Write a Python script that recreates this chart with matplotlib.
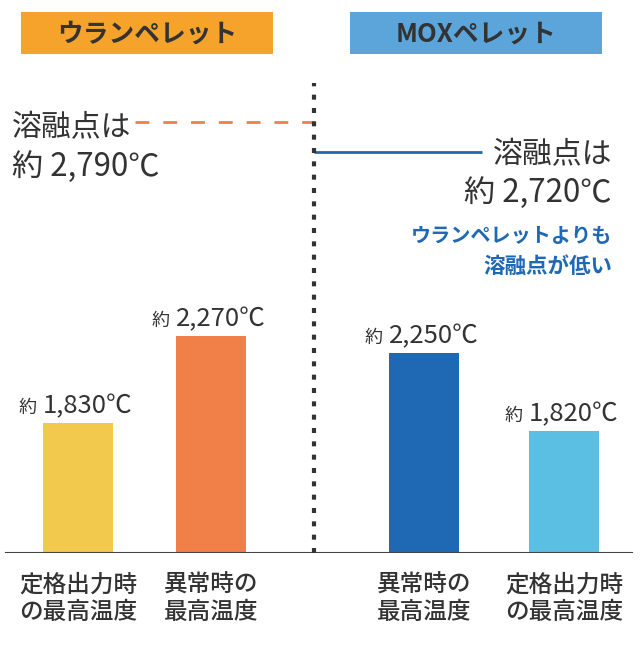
import numpy as np
import matplotlib
matplotlib.use("Agg")
import matplotlib.pyplot as plt
from matplotlib.patches import Rectangle

plt.rcParams['font.family'] = ['Noto Sans CJK JP', 'DejaVu Sans']

# data
categories = ['定格出力時\nの最高温度', '異常時の\n最高温度', '異常時の\n最高温度', '定格出力時\nの最高温度']
temps = [1830, 2270, 2250, 1820]
melt_uo2 = 2790
melt_mox = 2720
panel_titles = ['ウランペレット', 'MOXペレット']
note_lines = ['ウランペレットよりも', '溶融点が低い']

# layout (pixel-like x units, figure is 640 wide)
W, H = 640, 648
base_px = 553
centers = [78, 211, 424, 564]
bar_w = 70
divider_x = 314
bar_colors = ['#F2C94C', '#F08048', '#1F69B4', '#5BBFE3']
text_col = '#333333'
note_col = '#1F69B4'

# the source illustration is not drawn to a linear scale; reproduce it with a
# piecewise scale (value -> pixel height above baseline)
knot_v = [0, 1820, 1830, 2250, 2270, 2720, 2790, 3080]
knot_h = [0, 122, 130, 200, 217, 401, 431, 553]


def fwd(v):
    return np.interp(v, knot_v, knot_h)


def inv(h):
    return np.interp(h, knot_h, knot_v)


fig = plt.figure(figsize=(W / 100, H / 100), dpi=100)
ax = fig.add_axes([0, (H - base_px) / H, 1, base_px / H])
ax.set_yscale('function', functions=(fwd, inv))
ax.set_xlim(0, W)
ax.set_ylim(0, 3080)
for s in ax.spines.values():
    s.set_visible(False)
ax.set_yticks([])
ax.set_xticks([])

ax.bar(centers, temps, width=bar_w, color=bar_colors, zorder=2)

# value labels
for x, v in zip(centers, temps):
    ax.annotate('約', (x, v), xytext=(-41, 10), textcoords='offset pixels',
                ha='right', va='baseline', fontsize=13, color=text_col)
    ax.annotate(f'{v:,}℃', (x, v), xytext=(-35, 10), textcoords='offset pixels',
                ha='left', va='baseline', fontsize=18.5, color=text_col)

# category labels
for x, lab in zip(centers, categories):
    ax.annotate(lab, (x, 0), xytext=(0, -21), textcoords='offset pixels',
                ha='center', va='top', fontsize=17, fontweight='medium',
                color=text_col, linespacing=1.2)

# baseline and divider
ax.axhline(0, xmin=6 / W, xmax=632 / W, color='#444444', lw=1.5, zorder=3)
ax.axvline(divider_x, ymin=0, ymax=470 / base_px, color='#333333', lw=3,
           dashes=(1.2, 2.0), zorder=3)

# melting points
ax.hlines(melt_uo2, 135, divider_x, colors='#F08048', lw=2, linestyles=(0, (5, 5)))
ax.hlines(melt_mox, divider_x, 482, colors='#1F69B4', lw=2)

ax.annotate('溶融点は', (12, melt_uo2), xytext=(0, -6), textcoords='offset pixels',
            ha='left', va='center', fontsize=21.5, color=text_col)
ax.annotate(f'約 {melt_uo2:,}℃', (12, melt_uo2), xytext=(0, -45),
            textcoords='offset pixels', ha='left', va='center', fontsize=22.5,
            color=text_col)
ax.annotate('溶融点は', (612, melt_mox), xytext=(0, -3), textcoords='offset pixels',
            ha='right', va='center', fontsize=21.5, color=text_col)
ax.annotate(f'約 {melt_mox:,}℃', (612, melt_mox), xytext=(0, -41),
            textcoords='offset pixels', ha='right', va='center', fontsize=22.5,
            color=text_col)
ax.annotate(note_lines[0], (612, melt_mox), xytext=(0, -83), textcoords='offset pixels',
            ha='right', va='center', fontsize=14.5, fontweight='bold', color=note_col)
ax.annotate(note_lines[1], (612, melt_mox), xytext=(0, -114), textcoords='offset pixels',
            ha='right', va='center', fontsize=15.5, fontweight='bold', color=note_col)

# panel headers
header_boxes = [(21, 273, '#F5A32A'), (350, 602, '#5CA5DB')]
for (x0, x1, col), title in zip(header_boxes, panel_titles):
    fig.add_artist(Rectangle((x0 / W, 1 - 54 / H), (x1 - x0) / W, 42 / H,
                             transform=fig.transFigure, color=col, lw=0))
    fig.text((x0 + x1) / 2 / W, 1 - 34 / H, title, ha='center', va='center',
             fontsize=18.5, fontweight='bold', color=text_col)

fig.savefig('out.png', dpi=100)
